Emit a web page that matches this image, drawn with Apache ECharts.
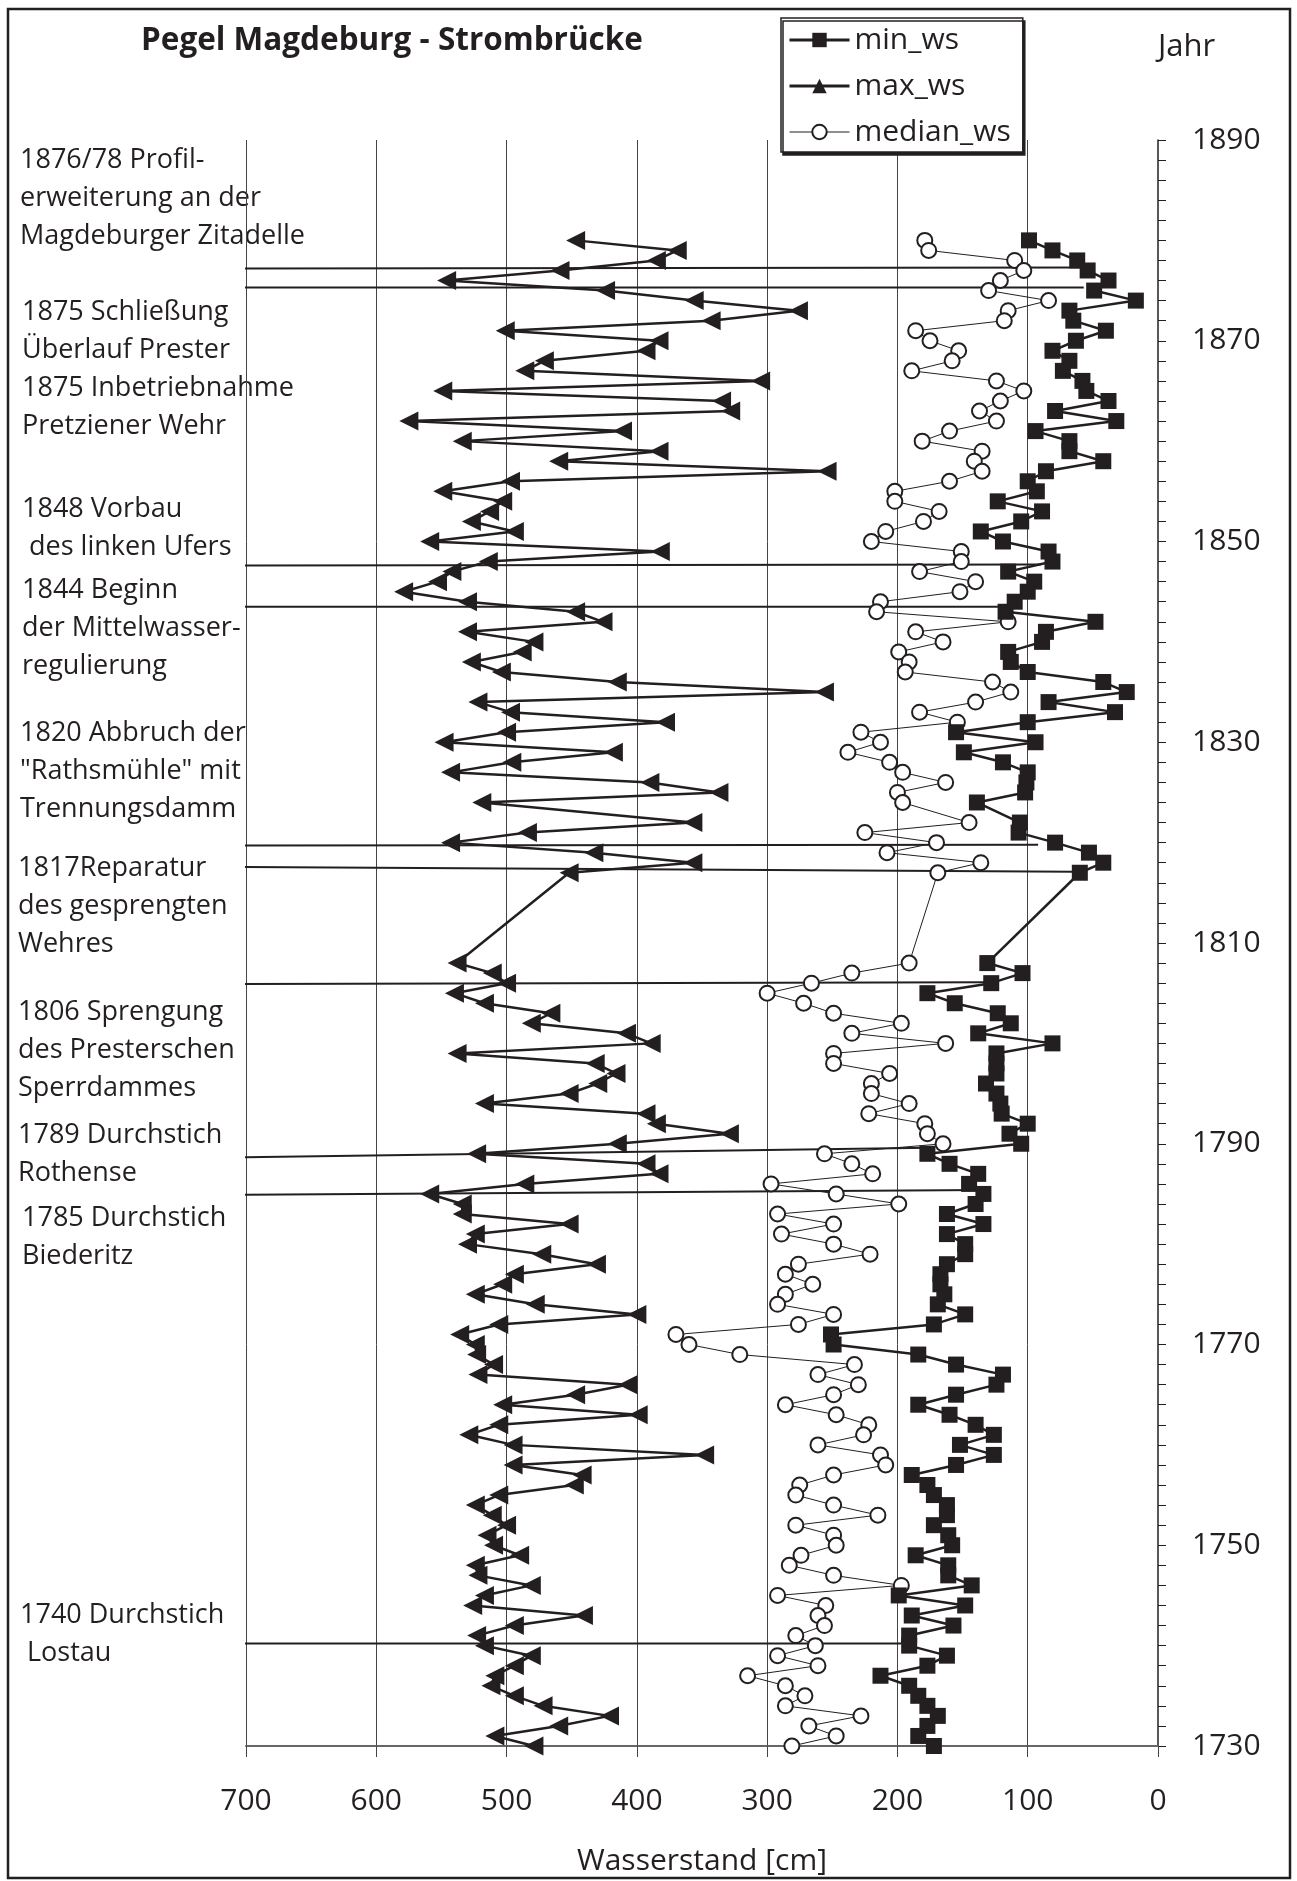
<!DOCTYPE html>
<html lang="de">
<head>
<meta charset="utf-8">
<title>Pegel Magdeburg - Strombrücke</title>
<script src="https://cdn.jsdelivr.net/npm/echarts@6.0.0/dist/echarts.min.js"></script>
<style>
  html, body { margin: 0; padding: 0; background: #fff; }
  #chart { width: 1297px; height: 1881px; }
</style>
</head>
<body>
<div id="chart"></div>
<script>
// one value per year, first entry = 1880, counting down to 1730; null = no value
const firstYear = 1880;

const minWs = [
  99, 81, 62, 54, 38, 49, 17, 68, 65, 40,          // 1880-1871
  63, 81, 68, 73, 58, 55, 38, 79, 32, 94,          // 1870-1861
  68, 68, 42, 86, 100, 93, 123, 89, 105, 136,      // 1860-1851
  119, 84, 81, 115, 95, 100, 110, 117, 48, 86,     // 1850-1841
  89, 115, 113, 100, 42, 24, 84, 33, 100, 155,     // 1840-1831
  94, 149, 119, 100, 101, 102, 139, null, 106, 107, // 1830-1821
  79, 53, 42, 60, null, null, null, null, null, null, // 1820-1811
  null, null, 131, 104, 128, 177, 156, 123, 113, 138, // 1810-1801
  81, 124, 124, 124, 132, 124, 121, 120, 100, 114, // 1800-1791
  105, 177, 160, 138, 145, 134, 140, 162, 134, 162, // 1790-1781
  148, 148, 162, 167, 167, 164, 169, 148, 172, 251, // 1780-1771
  249, 184, 155, 119, 124, 155, 184, 160, 140, 126, // 1770-1761
  152, 126, 155, 189, 177, 172, 162, 162, 172, 161, // 1760-1751
  158, 186, 161, 161, 143, 199, 148, 189, 157, 191, // 1750-1741
  191, 162, 177, 213, 191, 184, 177, 169, 177, 184, // 1740-1731
  172                                               // 1730
];

const maxWs = [
  447, 369, 385, 459, 546, 424, 356, 276, 343, 501,
  383, 393, 471, 486, 305, 549, 335, 328, 575, 411,
  534, 383, 460, 254, 497, 549, 503, 513, 527, 494,
  559, 382, 514, 542, 553, 579, 530, 447, 426, 530,
  479, 488, 527, 504, 415, 256, 522, 497, 378, 500,
  548, 418, 496, 543, 390, 337, 519, null, 357, 484,
  543, 433, 357, 452, null, null, null, null, null, null,
  null, null, 538, 511, 500, 540, 517, 466, 481, 408,
  389, 538, 432, 416, 430, 452, 517, 393, 385, 329,
  415, 523, 393, 383, 486, 559, 534, 534, 452, 524,
  530, 473, 431, 494, 503, 524, 478, 400, 506, 536,
  524, 523, 510, 522, 407, 447, 503, 399, 506, 529,
  495, 348, 495, 442, 448, 506, 524, 511, 500, 515,
  510, 490, 524, 522, 481, 517, 526, 441, 494, 523,
  517, 481, 494, 509, 512, 494, 472, 421, 460, 509,
  479
];

const medianWs = [
  179, 176, 110, 103, 121, 130, 84, 115, 118, 186,
  175, 153, 158, 189, 124, 103, 121, 137, 124, 160,
  181, 135, 141, 135, 160, 202, 202, 168, 180, 209,
  220, 151, 151, 183, 140, 152, 213, 216, 115, 186,
  165, 199, 191, 194, 127, 113, 140, 183, 154, 228,
  213, 238, 206, 196, 163, 200, 196, null, 145, 225,
  170, 208, 136, 169, null, null, null, null, null, null,
  null, null, 191, 235, 266, 300, 272, 249, 197, 235,
  163, 249, 249, 206, 220, 220, 191, 222, 179, 177,
  165, 256, 235, 219, 297, 247, 199, 292, 249, 289,
  249, 221, 276, 286, 265, 286, 292, 249, 276, 370,
  360, 321, 233, 261, 230, 249, 286, 247, 222, 226,
  261, 213, 209, 249, 275, 278, 249, 215, 278, 249,
  247, 274, 283, 249, 197, 292, 255, 261, 256, 278,
  263, 292, 261, 315, 286, 271, 286, 228, 268, 247,
  281
];

// event lines: water level and year at the left and right end
const eventStartWs = [741, 741, 741, 741, 732, 732, 732, 732, 732, 732];
const eventStartYear = [1877.2, 1875.3, 1847.6, 1843.5, 1819.7, 1817.6, 1805.9, 1788.6, 1784.9, 1740.2];
const eventEndWs = [57, 57, 90, 119, 92, 64, 132, 176, 134, 197];
const eventEndYear = [1877.3, 1875.3, 1847.7, 1843.5, 1819.8, 1817.1, 1806.1, 1789.6, 1785.4, 1740.2];

const ink = '#231f20';
const font = 'Open Sans';

const chart = echarts.init(document.getElementById('chart'), null, { renderer: 'canvas' });

function toPoints(values) {
  return values.map((v, i) => [v, firstYear - i]);
}

function eventSeries() {
  return eventStartWs.map((start, i) => ({
    type: 'line',
    name: 'ereignis_' + i,
    data: [
      [start, eventStartYear[i]],
      [eventEndWs[i], eventEndYear[i]],
    ],
    symbol: 'none',
    clip: false, // lines reach out left of the plot
    silent: true,
    z: 1,
    lineStyle: { color: ink, width: 2 },
  }));
}

// text block, top = centre of first line minus half a line
function note(text, left, top) {
  return {
    type: 'text',
    left: left,
    top: top,
    style: { text: text, fontFamily: font, fontSize: 27, lineHeight: 38, fill: ink },
  };
}

const option = {
  backgroundColor: '#fff',
  animation: false,
  textStyle: { fontFamily: font, color: ink },
  title: {
    text: 'Pegel Magdeburg - Strombrücke',
    left: 136,
    top: 20,
    textStyle: { fontFamily: font, fontSize: 31.5, fontWeight: 'bold', color: ink },
  },
  legend: {
    data: [
      { name: 'min_ws', lineStyle: { width: 3 } },
      { name: 'max_ws', lineStyle: { width: 3 } },
      { name: 'median_ws', lineStyle: { width: 1 } },
    ],
    orient: 'vertical',
    left: 781,
    top: 18,
    padding: [7, 12, 5, 7],
    itemWidth: 60,
    itemHeight: 18,
    itemGap: 16,
    symbolRotate: 0,
    backgroundColor: '#fff',
    borderColor: ink,
    borderWidth: 1.5,
    borderRadius: 0,
    shadowColor: ink,
    shadowBlur: 0,
    shadowOffsetX: 2,
    shadowOffsetY: 3,
    textStyle: { fontFamily: font, fontSize: 30, color: ink },
    z: 10,
  },
  grid: { left: 246, right: 139, top: 140, bottom: 134 },
  xAxis: {
    type: 'value',
    inverse: true,
    min: 0,
    max: 700,
    interval: 100,
    name: 'Wasserstand [cm]',
    nameLocation: 'middle',
    nameGap: 100,
    nameTextStyle: { fontFamily: font, fontSize: 30, color: ink },
    axisLine: { show: true, lineStyle: { color: '#666', width: 2 } },
    axisTick: { show: true, length: 11, lineStyle: { color: '#444', width: 1 } },
    axisLabel: { fontFamily: font, fontSize: 30, color: ink, margin: 40 },
    splitLine: {
      show: true,
      showMinLine: false,
      showMaxLine: true,
      lineStyle: { color: '#444', width: 1 },
    },
  },
  yAxis: {
    type: 'value',
    position: 'right',
    min: 1730,
    max: 1890,
    interval: 20,
    name: 'Jahr',
    nameLocation: 'end',
    nameGap: 77,
    nameTextStyle: { fontFamily: font, fontSize: 31, color: ink, align: 'left' },
    axisLine: { show: true, lineStyle: { color: ink, width: 1.5 } },
    axisTick: { show: true, inside: false, length: 8, lineStyle: { color: ink } },
    minorTick: { show: true, splitNumber: 10, length: 8, lineStyle: { color: ink } },
    axisLabel: {
      fontFamily: font,
      fontSize: 30,
      color: ink,
      margin: 34,
      formatter: (v) => String(v), // no thousands separator in years
    },
    splitLine: { show: false },
  },
  graphic: [
    {
      type: 'rect',
      shape: { x: 8, y: 9, width: 1282, height: 1869 },
      style: { fill: 'none', stroke: ink, lineWidth: 2.5 },
      silent: true,
      z: -1,
    },
    note('1876/78 Profil-\nerweiterung an der\nMagdeburger Zitadelle', 20, 141),
    note('1875 Schließung\nÜberlauf Prester\n1875 Inbetriebnahme\nPretziener Wehr', 22, 293),
    note('1848 Vorbau\n des linken Ufers', 22, 490),
    note('1844 Beginn\nder Mittelwasser-\nregulierung', 22, 571),
    note('1820 Abbruch der\n"Rathsmühle" mit\nTrennungsdamm', 20, 714),
    note('1817Reparatur\ndes gesprengten\nWehres', 18, 849),
    note('1806 Sprengung\ndes Presterschen\nSperrdammes', 18, 993),
    note('1789 Durchstich\nRothense', 18, 1116),
    note('1785 Durchstich\nBiederitz', 22, 1199),
    note('1740 Durchstich\n Lostau', 20, 1596),
  ],
  series: [
    ...eventSeries(),
    {
      type: 'line',
      name: 'min_ws',
      data: toPoints(minWs),
      connectNulls: true,
      symbol: 'rect',
      symbolSize: 16,
      z: 4,
      lineStyle: { color: ink, width: 2.5 },
      itemStyle: { color: ink },
    },
    {
      type: 'line',
      name: 'max_ws',
      data: toPoints(maxWs),
      connectNulls: true,
      symbol: 'triangle',
      symbolRotate: 90,
      symbolSize: 19,
      z: 4,
      lineStyle: { color: ink, width: 2.5 },
      itemStyle: { color: ink },
    },
    {
      type: 'line',
      name: 'median_ws',
      data: toPoints(medianWs),
      connectNulls: true,
      symbol: 'circle',
      symbolSize: 15,
      z: 3,
      lineStyle: { color: ink, width: 1 },
      itemStyle: { color: '#fff', borderColor: ink, borderWidth: 2 },
    },
  ],
};

chart.setOption(option);
</script>
</body>
</html>
